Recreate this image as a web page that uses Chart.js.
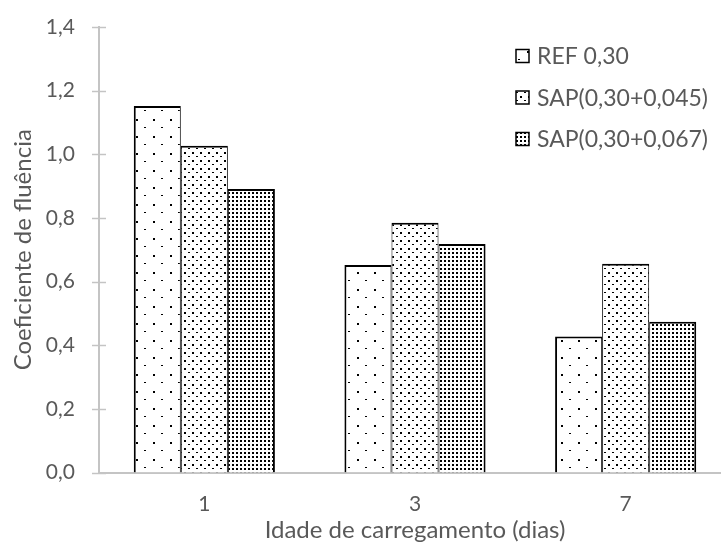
<!DOCTYPE html>
<html>
<head>
<meta charset="utf-8">
<script src="https://cdn.jsdelivr.net/npm/chart.js@4/dist/chart.umd.min.js"></script>
<style>
  html, body { margin: 0; padding: 0; background: #ffffff; overflow: hidden; }
  #wrap { width: 745px; height: 542px; }
</style>
</head>
<body>
<div id="wrap"><canvas id="c" width="745" height="542"></canvas></div>
<script>
// Loading age (days) and creep coefficient per mix
const categories = ['1', '3', '7'];
const seriesNames = ['REF 0,30', 'SAP(0,30+0,045)', 'SAP(0,30+0,067)'];
const refValues = [1.152, 0.652, 0.427];
const sap045Values = [1.027, 0.785, 0.656];
const sap067Values = [0.891, 0.718, 0.474];
const yTickLabels = ['0,0', '0,2', '0,4', '0,6', '0,8', '1,0', '1,2', '1,4'];

const FONT = 'Lato, "Open Sans", sans-serif';
const TEXT = '#595959';
const AXIS = '#c4c4c4';

// Dotted fill textures
function makePattern(size, draw) {
  const cv = document.createElement('canvas');
  cv.width = size; cv.height = size;
  const g = cv.getContext('2d');
  g.fillStyle = '#ffffff';
  g.fillRect(0, 0, size, size);
  g.fillStyle = '#000000';
  draw(g);
  return document.createElement('canvas').getContext('2d').createPattern(cv, 'repeat');
}
const patRef = makePattern(17, g => { g.fillRect(0, 0, 2, 2); g.fillRect(8, 8, 2, 1); });
const pat045 = makePattern(8, g => { g.fillRect(0, 0, 2, 2); g.fillRect(4, 4, 2, 1); });
const pat067 = makePattern(4, g => { g.fillRect(0, 0, 2, 2); });
const patterns = [patRef, pat045, pat067];

// Y axis tick marks crossing the axis line
const crossTicks = {
  id: 'crossTicks',
  afterDraw(chart) {
    const y = chart.scales.y;
    const x0 = chart.chartArea.left;
    const ctx = chart.ctx;
    ctx.save();
    ctx.strokeStyle = AXIS;
    ctx.lineWidth = 1.5;
    y.ticks.forEach(t => {
      const py = Math.round(y.getPixelForValue(t.value)) + 0.5;
      ctx.beginPath();
      ctx.moveTo(x0 - 7, py);
      ctx.lineTo(x0 + 7, py);
      ctx.stroke();
    });
    ctx.restore();
  }
};

// Legend stacked in the upper right of the plot
const boxLegend = {
  id: 'boxLegend',
  afterDraw(chart) {
    const ctx = chart.ctx;
    const ca = chart.chartArea;
    const x = ca.left + 417;
    const y0 = ca.top + 29;
    const step = 41.5;
    ctx.save();
    ctx.font = '23px ' + FONT;
    ctx.textBaseline = 'middle';
    ctx.textAlign = 'left';
    chart.data.datasets.forEach((ds, i) => {
      const cy = y0 + i * step;
      ctx.fillStyle = patterns[i];
      ctx.fillRect(x, cy - 6.5, 13, 13);
      ctx.strokeStyle = '#000000';
      ctx.lineWidth = 1.5;
      ctx.strokeRect(x, cy - 6.5, 13, 13);
      ctx.fillStyle = TEXT;
      ctx.fillText(ds.label, x + 21, cy + 1);
    });
    ctx.restore();
  }
};

const borders = [
  { top: 2, left: 2, right: 1, bottom: 0 },
  { top: 2, left: 1, right: 1, bottom: 0 },
  { top: 2, left: 1, right: 2, bottom: 0 }
];
const valueSets = [refValues, sap045Values, sap067Values];

new Chart(document.getElementById('c'), {
  type: 'bar',
  data: {
    labels: categories,
    datasets: valueSets.map((vals, i) => ({
      label: seriesNames[i],
      data: vals,
      backgroundColor: patterns[i],
      borderColor: '#000000',
      borderWidth: borders[i],
      borderSkipped: 'bottom',
      categoryPercentage: 0.67,
      barPercentage: 1.0
    }))
  },
  options: {
    responsive: false,
    animation: false,
    devicePixelRatio: 1,
    layout: { padding: { top: 27, right: 14, bottom: 0, left: 0 } },
    plugins: { legend: { display: false }, tooltip: { enabled: false } },
    scales: {
      x: {
        grid: { display: false, drawTicks: false },
        border: { display: true, color: AXIS, width: 2 },
        ticks: { color: TEXT, font: { family: FONT, size: 21 }, padding: 19 },
        title: {
          display: true, text: 'Idade de carregamento (dias)',
          color: TEXT, font: { family: FONT, size: 24 }, padding: { top: 0, bottom: -3 }
        },
        afterFit(s) { s.height = 69.5; s.paddingLeft = 0; s.paddingRight = 0; }
      },
      y: {
        min: 0, max: 1.4,
        grid: { display: false, drawTicks: false },
        border: { display: true, color: AXIS, width: 2 },
        ticks: {
          stepSize: 0.2,
          color: TEXT,
          font: { family: FONT, size: 21 },
          padding: 24,
          callback: (v, i) => yTickLabels[i]
        },
        title: {
          display: true, text: 'Coeficiente de fluência',
          color: TEXT, font: { family: FONT, size: 24 }, padding: { top: 9, bottom: 0 }
        },
        afterFit(s) { s.width = 99; s.paddingTop = 0; s.paddingBottom = 0; }
      }
    }
  },
  plugins: [crossTicks, boxLegend]
});
</script>
</body>
</html>
